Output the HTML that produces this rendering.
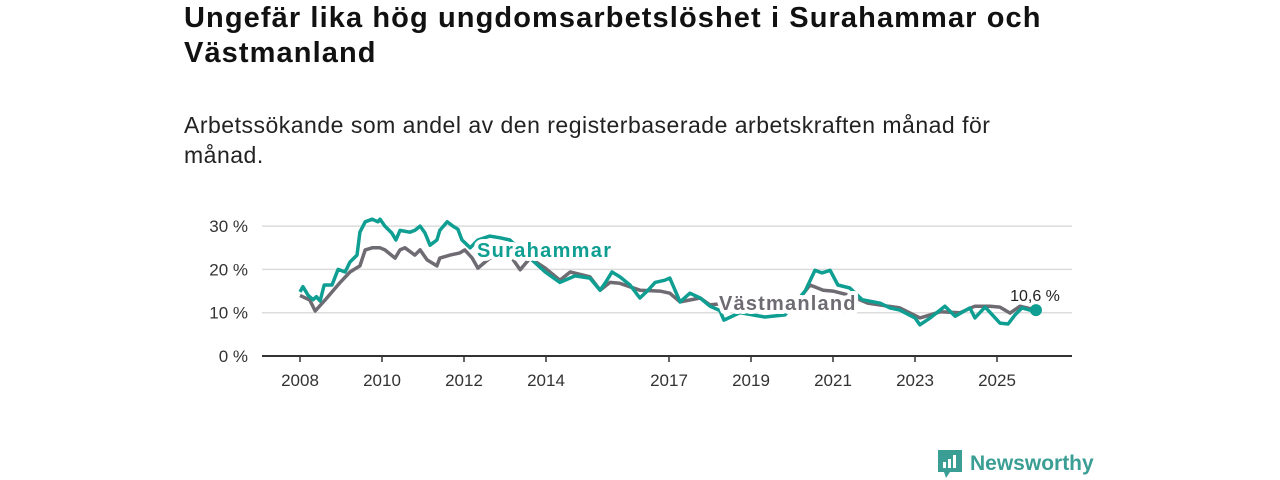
<!DOCTYPE html>
<html><head><meta charset="utf-8"><style>
body{margin:0;width:1280px;height:480px;background:#fff;font-family:"Liberation Sans","DejaVu Sans",sans-serif;overflow:hidden;position:relative}
h1{position:absolute;left:184px;top:1px;margin:0;font-size:29px;letter-spacing:1.1px;line-height:35px;font-weight:bold;color:#111;width:900px}
p{position:absolute;left:184px;top:110px;margin:0;font-size:23px;letter-spacing:0.5px;line-height:30px;color:#222;width:850px}
svg{position:absolute;left:0;top:0}
</style></head><body>
<h1>Ungefär lika hög ungdomsarbetslöshet i Surahammar och Västmanland</h1>
<p>Arbetssökande som andel av den registerbaserade arbetskraften månad för månad.</p>
<svg id="c" width="1280" height="480"></svg>
<div style="position:absolute;left:938px;top:450px;height:28px;display:flex;align-items:center;color:#3a9e94;font-size:21px;font-weight:bold">
<svg width="24" height="28" style="position:static;margin-right:8px"><path d="M0 0H24V22H12L8 28L6 22H0Z" fill="#3a9e94"/><rect x="5" y="12" width="3" height="6" fill="#fff"/><rect x="10" y="9" width="3" height="9" fill="#fff"/><rect x="15" y="5" width="3" height="13" fill="#fff"/></svg>Newsworthy</div>
<script>
const yTicks=[0,10,20,30];
const xTicks=[2008,2010,2012,2014,2017,2019,2021,2023,2025];
const suraYears=[2008.0,2008.07,2008.2,2008.32,2008.4,2008.49,2008.59,2008.78,2008.93,2009.1,2009.22,2009.39,2009.46,2009.59,2009.76,2009.9,2009.95,2010.07,2010.24,2010.34,2010.44,2010.68,2010.8,2010.93,2011.05,2011.17,2011.34,2011.41,2011.59,2011.73,2011.85,2011.95,2012.15,2012.34,2012.63,2012.88,2013.12,2013.37,2013.61,2013.98,2014.34,2014.71,2015.07,2015.32,2015.44,2015.61,2015.8,2016.05,2016.29,2016.49,2016.66,2016.9,2017.02,2017.27,2017.51,2017.76,2018.0,2018.24,2018.34,2018.73,2019.34,2019.83,2020.32,2020.56,2020.73,2020.93,2021.12,2021.41,2021.71,2022.15,2022.39,2022.63,2023.0,2023.12,2023.37,2023.73,2023.98,2024.34,2024.46,2024.71,2025.07,2025.27,2025.44,2025.61,2025.8,2025.95];
const suraValues=[14.8,16,14,13,13.7,12.7,16.4,16.4,20,19.4,21.7,23.3,28.6,31,31.6,31,31.6,30,28.4,26.8,29,28.6,29,30,28.4,25.6,26.8,29,31,30,29.3,26.8,25,26.8,27.7,27.3,26.8,24.5,22.6,19.4,17,18.5,18,15.2,16.8,19.4,18.3,16.4,13.4,15.2,17,17.5,18,12.5,14.5,13.4,11.5,10.5,8.3,10,9,9.5,15,19.8,19.2,19.8,16.4,15.7,13,12.2,11.1,10.6,8.8,7.2,8.8,11.5,9.2,11.1,8.8,11.3,7.6,7.4,9.5,11.1,10.6,10.6];
const vastYears=[2008.0,2008.24,2008.37,2008.61,2008.98,2009.22,2009.46,2009.59,2009.76,2009.95,2010.07,2010.32,2010.44,2010.56,2010.8,2010.93,2011.1,2011.34,2011.41,2011.66,2011.9,2012.02,2012.2,2012.34,2012.63,2013.12,2013.37,2013.61,2013.98,2014.34,2014.59,2015.07,2015.32,2015.56,2015.8,2016.29,2016.78,2017.02,2017.27,2017.76,2018.0,2018.37,2019.2,2020.15,2020.44,2020.76,2021.0,2021.37,2021.85,2022.63,2023.12,2023.37,2023.61,2024.1,2024.46,2024.83,2025.07,2025.32,2025.56,2025.95];
const vastValues=[14,12.9,10.4,12.9,17,19.4,20.8,24.5,25,25,24.5,22.6,24.5,25,23.3,24.5,22.2,20.8,22.6,23.3,23.8,24.5,22.6,20.3,22.6,23.3,19.9,22.6,20.3,17.5,19.4,18.3,15.2,17,16.8,15.2,15,14.5,12.5,13.4,11.8,12.2,12.2,12.9,16.4,15.2,15,14.1,12.2,11.1,8.8,9.5,10.2,10,11.5,11.5,11.3,9.9,11.5,10.6];
const svg=document.getElementById('c');const NS='http://www.w3.org/2000/svg';
const X=v=>300+(v-2008)*41, Y=v=>356-v*4.33;
function mk(t,a,parent){const e=document.createElementNS(NS,t);for(const k in a)e.setAttribute(k,a[k]);(parent||svg).appendChild(e);return e;}
yTicks.forEach(t=>{
 if(t>0){const g=mk('line',{x1:262,x2:1072,y1:Y(t),y2:Y(t),stroke:'#dcdcdc','stroke-width':1.5});
 
 }
 const l=mk('text',{x:248,y:Y(t)+6,'text-anchor':'end','font-size':17,fill:'#333'});l.textContent=t+' %';
 
 
});
const ax=mk('line',{x1:262,x2:1072,y1:356,y2:356,stroke:'#333','stroke-width':2});


xTicks.forEach(t=>{
 mk('line',{x1:X(t),x2:X(t),y1:356,y2:362,stroke:'#333','stroke-width':1.5});
 const l=mk('text',{x:X(t),y:386,'text-anchor':'middle','font-size':17,fill:'#333'});l.textContent=t;
 
 
});
function line(xs,vs,col,name){const d=xs.map((x,i)=>(i?'L':'M')+X(x).toFixed(1)+' '+Y(vs[i]).toFixed(1)).join('');
 const p=mk('path',{d:d,fill:'none',stroke:col,'stroke-width':3.5,'stroke-linejoin':'round'});
 
 }
line(vastYears,vastValues,'#6e6b72','vastmanland-line');
line(suraYears,suraValues,'#0f9e92','surahammar-line');
const dot=mk('circle',{cx:X(suraYears[suraYears.length-1]),cy:Y(suraValues[suraValues.length-1]),r:6,fill:'#0f9e92'});


const lv=mk('text',{x:1035,y:301,'text-anchor':'middle','font-size':16,fill:'#222',stroke:'#fff','stroke-width':4,'paint-order':'stroke'});lv.textContent='10,6 %';


const s=mk('text',{x:477,y:257,'font-size':20,'letter-spacing':1.3,'font-weight':'bold',fill:'#0f9e92',stroke:'#fff','stroke-width':8,'paint-order':'stroke','stroke-linejoin':'round'});s.textContent='Surahammar';


const v=mk('text',{x:719,y:310,'font-size':20,'letter-spacing':1.2,'font-weight':'bold',fill:'#6e6b72',stroke:'#fff','stroke-width':8,'paint-order':'stroke','stroke-linejoin':'round'});v.textContent='Västmanland';


</script>
</body></html>
